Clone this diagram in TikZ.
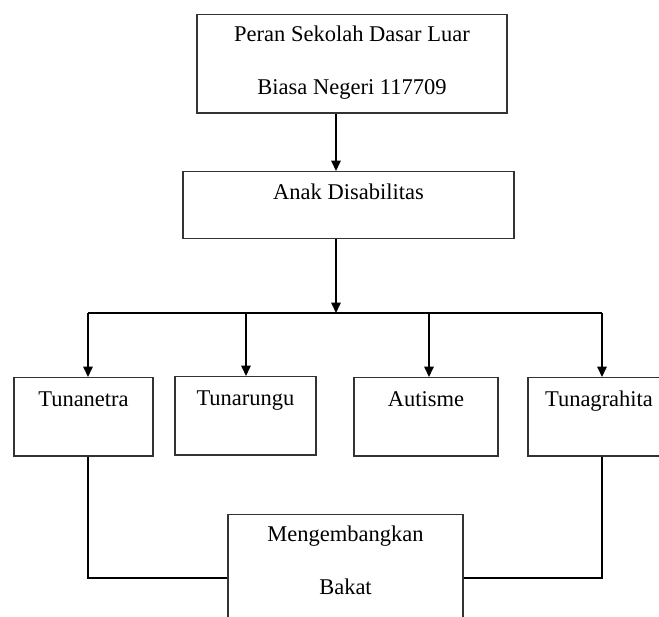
\documentclass[tikz,border=0pt]{standalone}
\usepackage{fontspec}
\setmainfont{Liberation Serif}
\usetikzlibrary{arrows.meta}

\begin{document}
\begin{tikzpicture}[x=0.5333pt, y=-0.5333pt, line width=0.8pt, >={Triangle[length=5.5pt,width=5pt]},
    box/.style={rectangle, draw=black!80, inner sep=0pt, anchor=north, align=center, font=\fontsize{12pt}{28.5pt}\selectfont},
    small box/.style={box, text height=15.2pt, text depth=26.4pt}]

                \clip (0,0) rectangle (659,617);

                \node[box, minimum width=165.3pt, text height=42.7pt, text depth=9.6pt] (peran) at (352,14) {Peran Sekolah Dasar Luar\\Biasa Negeri 117709};
                \node[box, minimum width=176.5pt, text height=14.9pt, text depth=20.8pt] (anak) at (348.5,171) {Anak Disabilitas};
                \node[small box, minimum width=74.1pt] (tn) at (83.5,377) {Tunanetra};
                \node[small box, minimum width=75.2pt] (tr) at (245.5,376) {Tunarungu};
                \node[small box, minimum width=76.8pt] (au) at (426,377) {Autisme};
                \node[small box, minimum width=75.7pt] (tg) at (599,377) {Tunagrahita};
                \node[box, minimum width=125.3pt, text height=42.7pt, text depth=24.5pt] (bakat) at (345.5,514) {Mengembangkan\\Bakat};

                \coordinate (hub) at (336,313);
                \coordinate (d1) at (88,313);
                \coordinate (d2) at (246,313);
                \coordinate (d3) at (429,313);
                \coordinate (d4) at (602,313);

                \draw[->] (peran.south -| hub) -- (anak.north -| hub);
                \draw[->] (anak.south -| hub) -- (hub);
                \draw (d1) -- (d4);
                \draw[->] (d1) -- (d1 |- tn.north);
                \draw[->] (d2) -- (d2 |- tr.north);
                \draw[->] (d3) -- (d3 |- au.north);
                \draw[->] (d4) -- (d4 |- tg.north);
                \draw (tn.south -| d1) |- (bakat.west);
                \draw (tg.south -| d4) |- (bakat.east);
            \end{tikzpicture}
\end{document}
